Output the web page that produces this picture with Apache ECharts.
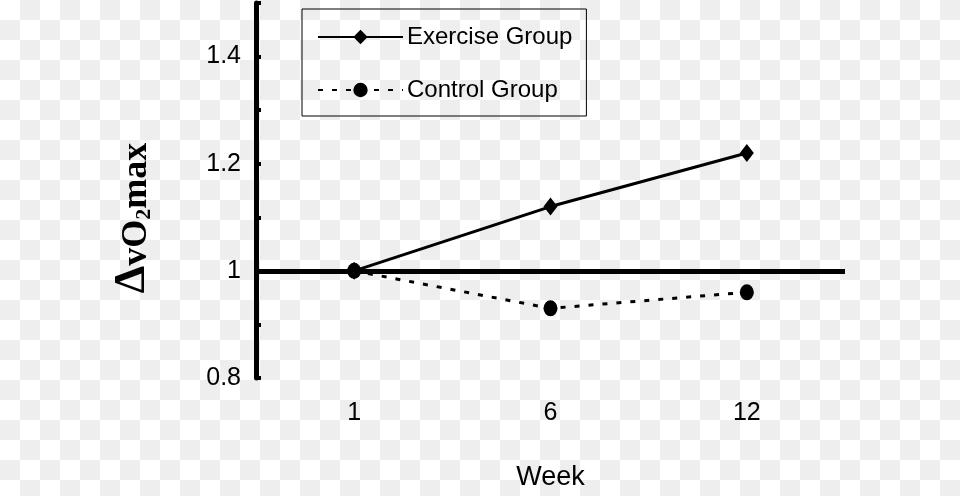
<!DOCTYPE html>
<html><head><meta charset="utf-8">
<script src="https://cdn.jsdelivr.net/npm/echarts@6/dist/echarts.min.js"></script>
<style>
html,body{margin:0;padding:0;}
body{width:960px;height:496px;background-color:#fff;background-image:conic-gradient(#eeeeee 0 25%, #ffffff 0 50%, #eeeeee 0 75%, #ffffff 0);background-size:40px 40px;overflow:hidden;}
#chart{width:960px;height:496px;}
</style></head><body><div id="chart"></div>
<script>
const weeks = ['1', '6', '12'];
const exerciseGroup = [1.0, 1.12, 1.22];
const controlGroup = [1.0, 0.93, 0.96];
const baselineValue = 1;
const yMin = 0.8, yMax = 1.5, yStep = 0.1;
const yLabelValues = [0.8, 1, 1.2, 1.4];
const seriesNames = ['Exercise Group', 'Control Group'];

const chart = echarts.init(document.getElementById('chart'));
const sans = 'Liberation Sans, Arial, sans-serif';
const serif = 'Liberation Serif, Times New Roman, serif';
chart.setOption({
  animation: false,
  grid: { left: 256, right: 115, top: 3, bottom: 113, containLabel: false },
  legend: {
    orient: 'vertical', left: 302, top: 9,
    backgroundColor: 'transparent',
    borderColor: '#000', borderWidth: 1,
    padding: [16, 14, 14, 15],
    itemWidth: 85, itemHeight: 18, itemGap: 29,
    textStyle: { fontSize: 24, color: '#000', fontFamily: sans, padding: [0, 0, 0, -1] },
    data: seriesNames
  },
  xAxis: {
    type: 'category', data: weeks, boundaryGap: true,
    axisLine: { show: false }, axisTick: { show: false },
    axisLabel: { color: '#000', fontSize: 25, fontFamily: sans, margin: 23 },
    name: 'Week', nameLocation: 'middle', nameGap: 86,
    nameTextStyle: { color: '#000', fontSize: 27, fontFamily: sans }
  },
  yAxis: {
    type: 'value', min: yMin, max: yMax, interval: yStep,
    splitLine: { show: false },
    axisLine: { show: true, lineStyle: { color: '#000', width: 5 } },
    axisTick: { show: true, inside: true, length: 5, lineStyle: { color: '#000', width: 4 } },
    axisLabel: {
      color: '#000', fontSize: 25, fontFamily: sans, margin: 15,
      formatter: v => yLabelValues.some(t => Math.abs(t - v) < 1e-6) ? String(Math.round(v * 10) / 10) : ''
    }
  },
  graphic: [{
    type: 'text', x: 133, y: 218, rotation: Math.PI / 2,
    style: {
      text: '{a|Δ}{b|vO}{c|2}{b|max}',
      align: 'center', verticalAlign: 'middle', fill: '#000',
      rich: {
        a: { fontSize: 44, fontFamily: serif, fontWeight: 'bold', fill: '#000', verticalAlign: 'bottom' },
        b: { fontSize: 36, fontFamily: serif, fontWeight: 'bold', fill: '#000', verticalAlign: 'bottom' },
        c: { fontSize: 22, fontFamily: serif, fontWeight: 'bold', fill: '#000', verticalAlign: 'bottom' }
      }
    }
  }],
  series: [
    {
      name: seriesNames[0], type: 'line', data: exerciseGroup,
      symbol: 'diamond', symbolSize: [14, 18],
      lineStyle: { color: '#000', width: 3 },
      itemStyle: { color: '#000' },
      markLine: {
        silent: true, symbol: ['none', 'none'], label: { show: false },
        lineStyle: { color: '#000', width: 5, type: 'solid' },
        data: [{ yAxis: baselineValue }]
      },
      z: 3
    },
    {
      name: seriesNames[1], type: 'line', data: controlGroup,
      symbol: 'circle', symbolSize: [14, 16],
      lineStyle: { color: '#000', width: 3, type: [5, 9] },
      itemStyle: { color: '#000' },
      z: 3
    }
  ]
});
</script></body></html>
